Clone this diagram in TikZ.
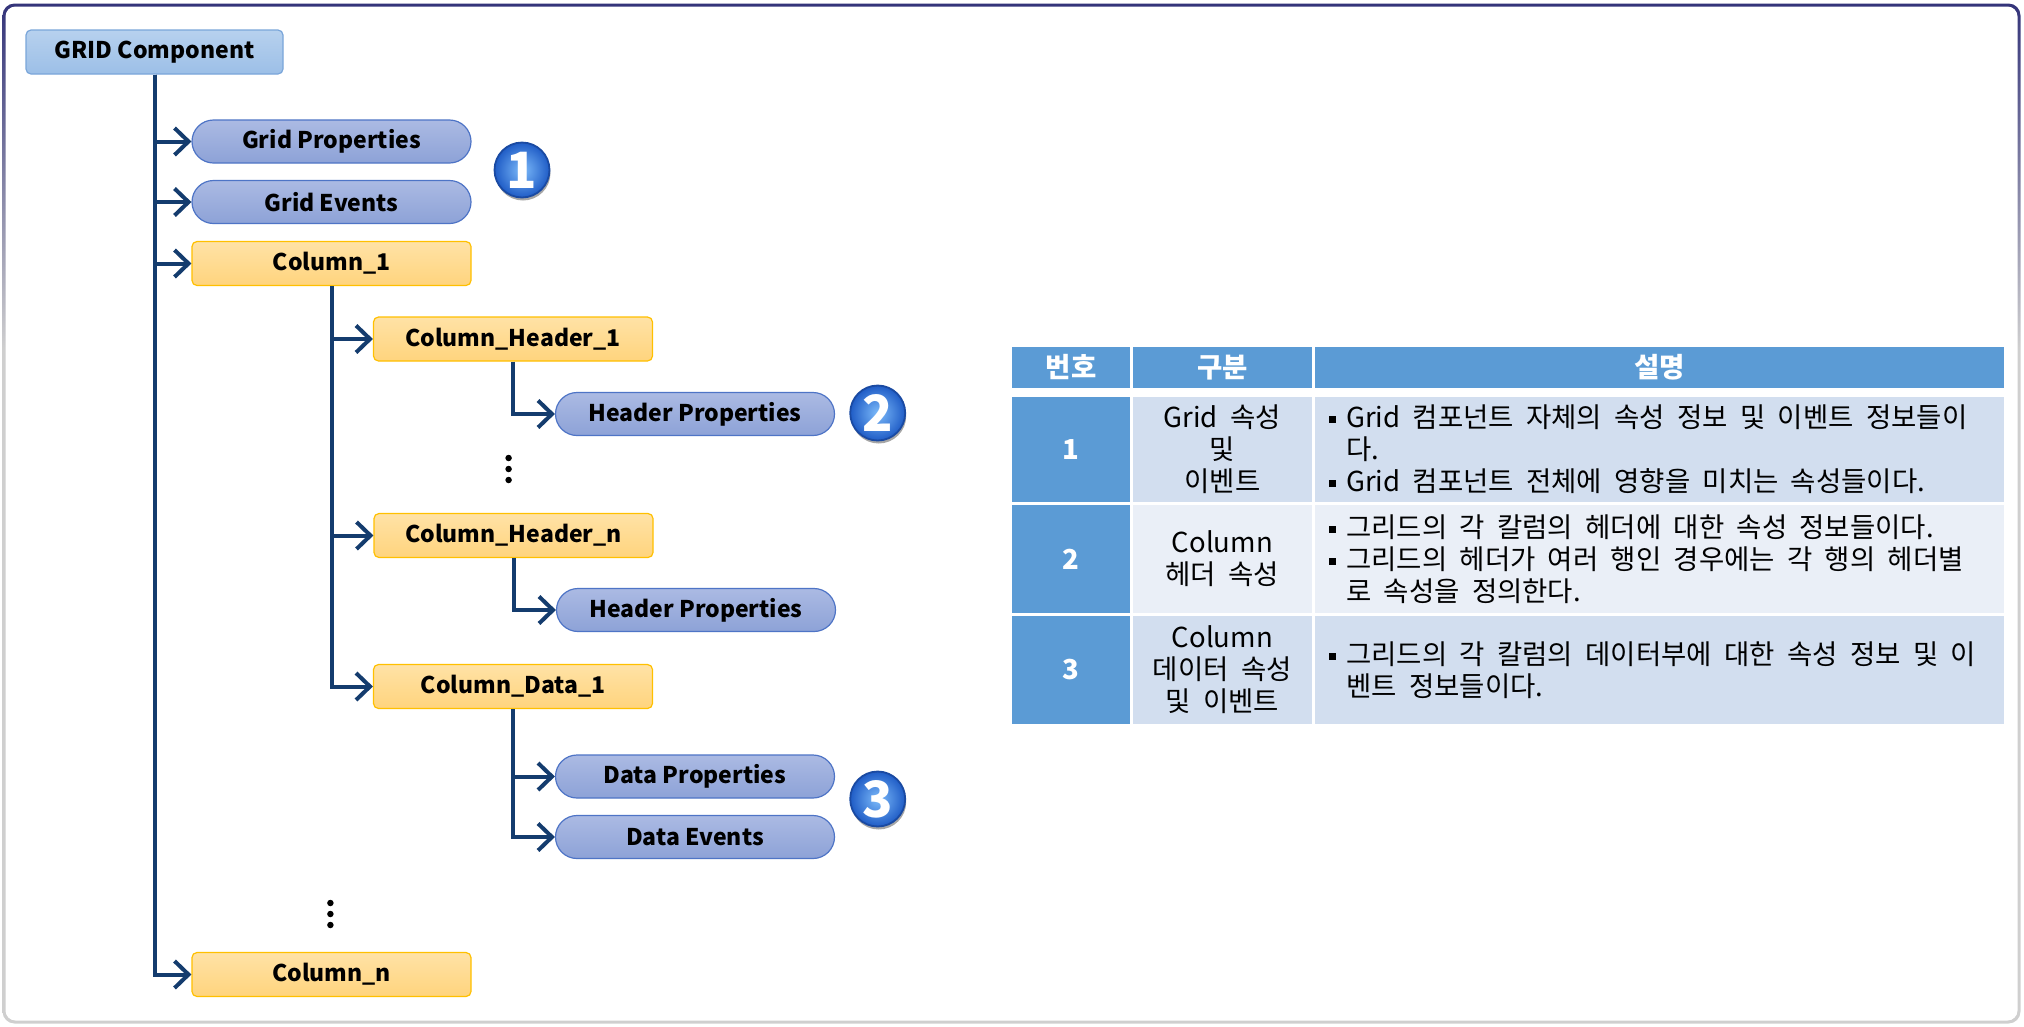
\documentclass[tikz,border=0pt]{standalone}
\usepackage{fontspec}
\setmainfont{Noto Sans CJK KR}
\newfontfamily\tblfont[WordSpace=2.0]{Noto Sans CJK KR}
\usetikzlibrary{arrows.meta,shapes.misc,shadows}

\definecolor{navyline}{HTML}{143C6E}
\definecolor{pillB}{HTML}{4E74C6}
\definecolor{pillT}{HTML}{ABBAE3}
\definecolor{pillBot}{HTML}{8DA2D7}
\definecolor{yelB}{HTML}{FFC000}
\definecolor{yelT}{HTML}{FFE2A6}
\definecolor{yelBot}{HTML}{FFD47D}
\definecolor{gridB}{HTML}{7AA6DA}
\definecolor{gridT}{HTML}{B7D1EE}
\definecolor{gridBot}{HTML}{9CBFE7}
\definecolor{tblue}{HTML}{5B9BD5}
\definecolor{tband}{HTML}{D2DEEF}
\definecolor{tbandb}{HTML}{EAEFF7}
\definecolor{framenavy}{HTML}{34347A}
\definecolor{framegray}{HTML}{CFCFCF}
\definecolor{badgeIn}{HTML}{7DBBFA}
\definecolor{badgeOut}{HTML}{1F5CC6}
\definecolor{badgeEdge}{HTML}{1A4AA2}

\pgfdeclareverticalshading{frameshade}{100bp}{color(0bp)=(framegray); color(25bp)=(framegray); color(58bp)=(framegray); color(75bp)=(framenavy); color(100bp)=(framenavy)}

\newcommand{\bul}{\makebox[17pt][l]{\rule[4.5pt]{7pt}{7pt}}}
\newcommand{\ind}{\hspace*{17pt}}

\tikzset{
  boxfont/.style={font=\bfseries\fontsize{23}{27}\selectfont},
  gridnode/.style={rectangle, rounded corners=5pt, draw=gridB, line width=1.2pt,
    top color=gridT, bottom color=gridBot, minimum width=257pt, minimum height=44pt,
    inner sep=0pt, boxfont},
  pill/.style={rounded rectangle, draw=pillB, line width=1.2pt, top color=pillT,
    bottom color=pillBot, minimum width=279pt, minimum height=43pt, inner sep=0pt, boxfont},
  ybox/.style={rectangle, rounded corners=5pt, draw=yelB, line width=1.2pt, top color=yelT,
    bottom color=yelBot, minimum width=279pt, minimum height=44pt, inner sep=0pt, boxfont},
  conn/.style={draw=navyline, line width=4pt, -{Straight Barb[length=14pt,width=27pt]}},
  dotmark/.style={fill=black, circle, minimum size=6.5pt, inner sep=0pt},
  badge/.style={circle, minimum size=55pt, inner sep=0pt, draw=badgeEdge, line width=1.8pt,
    inner color=badgeIn, outer color=badgeOut,
    drop shadow={opacity=0.35, shadow xshift=1pt, shadow yshift=-3pt, fill=black},
    text=white, font=\bfseries\fontsize{50}{50}\selectfont},
  tfont/.style={font=\tblfont\fontsize{27.5}{32}\selectfont},
  hcell/.style={rectangle, fill=tblue, inner sep=0pt, text=white,
    font=\tblfont\bfseries\fontsize{27.5}{32}\selectfont},
  ncell/.style={rectangle, fill=tblue, inner sep=0pt, text=white,
    font=\tblfont\bfseries\fontsize{27.5}{32}\selectfont},
  bcell/.style={rectangle, fill=#1, inner sep=0pt, align=center, tfont},
  btext/.style={anchor=west, inner sep=0pt, align=left, tfont},
}

\begin{document}
\begin{tikzpicture}[x=1pt, y=-1pt]
\useasboundingbox (0,0) rectangle (2024,1026);
% frame
\shade[shading=frameshade, rounded corners=12pt] (2.5,3.5) rectangle (2020.5,1023.5);
\fill[white, rounded corners=10pt] (5.5,6.5) rectangle (2017.5,1020.5);

% tree nodes
\node[gridnode] (grid) at (154.5,52) {GRID Component};
\node[pill] (gp) at (331.5,141.5) {Grid Properties};
\node[pill] (ge) at (331.5,202) {Grid Events};
\node[ybox] (c1) at (331.5,263.5) {Column\_1};
\node[ybox] (ch1) at (513,339) {Column\_Header\_1};
\node[pill] (hp1) at (695,414) {Header Properties};
\node[ybox] (chn) at (513.5,535.5) {Column\_Header\_n};
\node[pill] (hp2) at (696,610) {Header Properties};
\node[ybox] (cd1) at (513,686.5) {Column\_Data\_1};
\node[pill] (dp) at (695,776.5) {Data Properties};
\node[pill] (de) at (695,837) {Data Events};
\node[ybox] (cn) at (331.5,974.5) {Column\_n};

% connectors
\draw[conn] (grid.south) |- (gp.west);
\draw[conn] (grid.south) |- (ge.west);
\draw[conn] (grid.south) |- (c1.west);
\draw[conn] (grid.south) |- (cn.west);
\draw[conn] (c1.south) |- (ch1.west);
\draw[conn] (c1.south) |- (chn.west);
\draw[conn] (c1.south) |- (cd1.west);
\draw[conn] (ch1.south) |- (hp1.west);
\draw[conn] (chn.south) |- (hp2.west);
\draw[conn] (cd1.south) |- (dp.west);
\draw[conn] (cd1.south) |- (de.west);

% vertical ellipses
\node[dotmark] (d1a) at (508.6,458) {};
\node[dotmark] (d1b) at (508.6,469) {};
\node[dotmark] (d1c) at (508.6,480) {};
\node[dotmark] (d2a) at (330.4,903) {};
\node[dotmark] (d2b) at (330.4,914) {};
\node[dotmark] (d2c) at (330.4,925) {};

% badges
\node[badge] (b1) at (522,170) {1};
\node[badge] (b2) at (877.7,413) {2};
\node[badge] (b3) at (877.7,799) {3};

% table header
\node[hcell, minimum width=118pt, minimum height=41.3pt] (h1) at (1071,367.3) {번호};
\node[hcell, minimum width=178.7pt, minimum height=41.3pt] (h2) at (1222.35,367.3) {구분};
\node[hcell, minimum width=689pt, minimum height=41.3pt] (h3) at (1659.5,367.3) {설명};

% row 1
\node[ncell, minimum width=118pt, minimum height=105.3pt] (n1) at (1071,449.35) {1};
\node[bcell=tband, minimum width=178.7pt, minimum height=105.3pt] (k1) at (1222.35,449.35) {Grid 속성\\및\\이벤트};
\node[bcell=tband, minimum width=689pt, minimum height=105.3pt] (e1) at (1659.5,449.35) {};
\node[btext] (t1) at (1329,449.35) {\bul Grid 컴포넌트 자체의 속성 정보 및 이벤트 정보들이\\\ind 다.\\\bul Grid 컴포넌트 전체에 영향을 미치는 속성들이다.};

% row 2
\node[ncell, minimum width=118pt, minimum height=108pt] (n2) at (1071,559) {2};
\node[bcell=tbandb, minimum width=178.7pt, minimum height=108pt] (k2) at (1222.35,559) {Column\\헤더 속성};
\node[bcell=tbandb, minimum width=689pt, minimum height=108pt] (e2) at (1659.5,559) {};
\node[btext] (t2) at (1329,559) {\bul 그리드의 각 칼럼의 헤더에 대한 속성 정보들이다.\\\bul 그리드의 헤더가 여러 행인 경우에는 각 행의 헤더별\\\ind 로 속성을 정의한다.};

% row 3
\node[ncell, minimum width=118pt, minimum height=108pt] (n3) at (1071,670) {3};
\node[bcell=tband, minimum width=178.7pt, minimum height=108pt] (k3) at (1222.35,670) {Column\\데이터 속성\\및 이벤트};
\node[bcell=tband, minimum width=689pt, minimum height=108pt] (e3) at (1659.5,670) {};
\node[btext] (t3) at (1329,670) {\bul 그리드의 각 칼럼의 데이터부에 대한 속성 정보 및 이\\\ind 벤트 정보들이다.};
\end{tikzpicture}
\end{document}
